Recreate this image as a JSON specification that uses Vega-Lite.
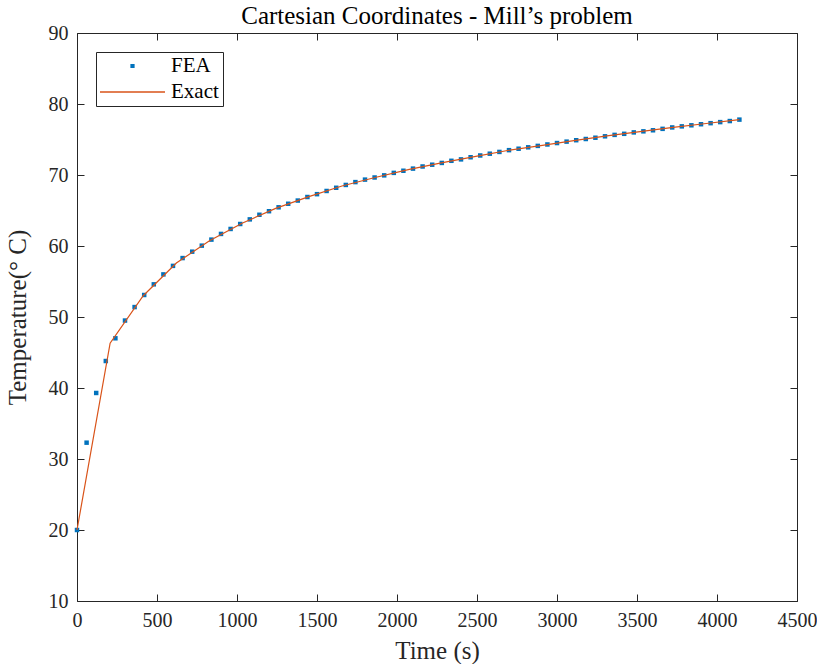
{
  "$schema": "https://vega.github.io/schema/vega-lite/v6.json",
  "autosize": "none",
  "width": 720,
  "height": 568,
  "padding": {"left": 77, "top": 33, "right": 20, "bottom": 63},
  "background": "white",
  "title": {"text": "Cartesian Coordinates - Mill’s problem", "offset": -6, "anchor": "middle", "font": "Liberation Serif", "fontSize": 25, "fontWeight": "normal", "color": "#000000"},
  "config": {
    "view": {"stroke": null},
    "axis": {
      "grid": false,
      "domainColor": "#262626",
      "domainWidth": 1,
      "tickColor": "#262626",
      "tickWidth": 1,
      "tickSize": -7,
      "labelFont": "Liberation Serif",
      "labelFontSize": 20,
      "labelColor": "#262626",
      "titleFont": "Liberation Serif",
      "titleFontSize": 25,
      "titleFontWeight": "normal",
      "titleColor": "#262626"
    }
  },
  "datasets": {
    "fea": [
      {"t": 0, "T": 20.0, "series": "FEA"},
      {"t": 60, "T": 32.3, "series": "FEA"},
      {"t": 120, "T": 39.3, "series": "FEA"},
      {"t": 180, "T": 43.8, "series": "FEA"},
      {"t": 240, "T": 47.0, "series": "FEA"},
      {"t": 300, "T": 49.5, "series": "FEA"},
      {"t": 360, "T": 51.4, "series": "FEA"},
      {"t": 420, "T": 53.1, "series": "FEA"},
      {"t": 480, "T": 54.6, "series": "FEA"},
      {"t": 540, "T": 56.0, "series": "FEA"},
      {"t": 600, "T": 57.2, "series": "FEA"},
      {"t": 660, "T": 58.3, "series": "FEA"},
      {"t": 720, "T": 59.2, "series": "FEA"},
      {"t": 780, "T": 60.05, "series": "FEA"},
      {"t": 840, "T": 60.9, "series": "FEA"},
      {"t": 900, "T": 61.7, "series": "FEA"},
      {"t": 960, "T": 62.4, "series": "FEA"},
      {"t": 1020, "T": 63.1, "series": "FEA"},
      {"t": 1080, "T": 63.75, "series": "FEA"},
      {"t": 1140, "T": 64.4, "series": "FEA"},
      {"t": 1200, "T": 64.9, "series": "FEA"},
      {"t": 1260, "T": 65.45, "series": "FEA"},
      {"t": 1320, "T": 65.95, "series": "FEA"},
      {"t": 1380, "T": 66.4, "series": "FEA"},
      {"t": 1440, "T": 66.9, "series": "FEA"},
      {"t": 1500, "T": 67.3, "series": "FEA"},
      {"t": 1560, "T": 67.75, "series": "FEA"},
      {"t": 1620, "T": 68.2, "series": "FEA"},
      {"t": 1680, "T": 68.6, "series": "FEA"},
      {"t": 1740, "T": 69.0, "series": "FEA"},
      {"t": 1800, "T": 69.35, "series": "FEA"},
      {"t": 1860, "T": 69.65, "series": "FEA"},
      {"t": 1920, "T": 69.95, "series": "FEA"},
      {"t": 1980, "T": 70.3, "series": "FEA"},
      {"t": 2040, "T": 70.6, "series": "FEA"},
      {"t": 2100, "T": 70.9, "series": "FEA"},
      {"t": 2160, "T": 71.2, "series": "FEA"},
      {"t": 2220, "T": 71.45, "series": "FEA"},
      {"t": 2280, "T": 71.7, "series": "FEA"},
      {"t": 2340, "T": 72.0, "series": "FEA"},
      {"t": 2400, "T": 72.2, "series": "FEA"},
      {"t": 2460, "T": 72.5, "series": "FEA"},
      {"t": 2520, "T": 72.75, "series": "FEA"},
      {"t": 2580, "T": 73.0, "series": "FEA"},
      {"t": 2640, "T": 73.25, "series": "FEA"},
      {"t": 2700, "T": 73.5, "series": "FEA"},
      {"t": 2760, "T": 73.7, "series": "FEA"},
      {"t": 2820, "T": 73.9, "series": "FEA"},
      {"t": 2880, "T": 74.1, "series": "FEA"},
      {"t": 2940, "T": 74.3, "series": "FEA"},
      {"t": 3000, "T": 74.5, "series": "FEA"},
      {"t": 3060, "T": 74.7, "series": "FEA"},
      {"t": 3120, "T": 74.9, "series": "FEA"},
      {"t": 3180, "T": 75.07, "series": "FEA"},
      {"t": 3240, "T": 75.25, "series": "FEA"},
      {"t": 3300, "T": 75.45, "series": "FEA"},
      {"t": 3360, "T": 75.65, "series": "FEA"},
      {"t": 3420, "T": 75.8, "series": "FEA"},
      {"t": 3480, "T": 76.0, "series": "FEA"},
      {"t": 3540, "T": 76.15, "series": "FEA"},
      {"t": 3600, "T": 76.3, "series": "FEA"},
      {"t": 3660, "T": 76.5, "series": "FEA"},
      {"t": 3720, "T": 76.7, "series": "FEA"},
      {"t": 3780, "T": 76.85, "series": "FEA"},
      {"t": 3840, "T": 77.0, "series": "FEA"},
      {"t": 3900, "T": 77.15, "series": "FEA"},
      {"t": 3960, "T": 77.3, "series": "FEA"},
      {"t": 4020, "T": 77.45, "series": "FEA"},
      {"t": 4080, "T": 77.6, "series": "FEA"},
      {"t": 4140, "T": 77.8, "series": "FEA"}
    ],
    "exact": [
      {"t": 0, "T": 20.0, "series": "Exact"},
      {"t": 207, "T": 46.3, "series": "Exact"},
      {"t": 414, "T": 53.0, "series": "Exact"},
      {"t": 621, "T": 57.6, "series": "Exact"},
      {"t": 828, "T": 60.75, "series": "Exact"},
      {"t": 1035, "T": 63.25, "series": "Exact"},
      {"t": 1242, "T": 65.3, "series": "Exact"},
      {"t": 1449, "T": 66.95, "series": "Exact"},
      {"t": 1656, "T": 68.45, "series": "Exact"},
      {"t": 1863, "T": 69.65, "series": "Exact"},
      {"t": 2070, "T": 70.75, "series": "Exact"},
      {"t": 2277, "T": 71.7, "series": "Exact"},
      {"t": 2484, "T": 72.6, "series": "Exact"},
      {"t": 2691, "T": 73.45, "series": "Exact"},
      {"t": 2898, "T": 74.15, "series": "Exact"},
      {"t": 3105, "T": 74.85, "series": "Exact"},
      {"t": 3312, "T": 75.5, "series": "Exact"},
      {"t": 3519, "T": 76.1, "series": "Exact"},
      {"t": 3726, "T": 76.7, "series": "Exact"},
      {"t": 3933, "T": 77.25, "series": "Exact"},
      {"t": 4140, "T": 77.8, "series": "Exact"}
    ]
  },
  "layer": [
    {
      "data": {"name": "fea"},
      "mark": {"type": "point", "shape": "square", "filled": true, "size": 20, "opacity": 1},
      "encoding": {
        "x": {"field": "t", "type": "quantitative", "scale": {"domain": [0, 4500], "nice": false, "zero": false},
              "axis": {"orient": "bottom", "values": [0, 500, 1000, 1500, 2000, 2500, 3000, 3500, 4000, 4500], "format": "d", "labelPadding": 16, "title": "Time (s)", "titlePadding": 8, "labelFlush": false}},
        "y": {"field": "T", "type": "quantitative", "scale": {"domain": [10, 90], "nice": false, "zero": false},
              "axis": {"orient": "left", "values": [10, 20, 30, 40, 50, 60, 70, 80, 90], "format": "d", "labelPadding": 16, "title": "Temperature(° C)", "titlePadding": 18, "labelFlush": false}},
        "color": {"field": "series", "type": "nominal", "scale": {"domain": ["FEA", "Exact"], "range": ["#0072BD", "#D95319"]},
                  "legend": {"title": null, "orient": "none", "legendX": 19, "legendY": 19, "symbolSize": 4225, "clipHeight": 20, "rowPadding": 5, "labelOffset": 6, "padding": 4,
                             "labelFont": "Liberation Serif", "labelFontSize": 21, "labelColor": "#000000",
                             "fillColor": "white", "strokeColor": "#262626",
                             "encode": {"symbols": {"update": {"shape": {"signal": "datum.value === 'FEA' ? 'M-0.065,-0.065H0.065V0.065H-0.065Z' : 'M-1,-0.02H1V0.02H-1Z'"}, "fill": {"scale": "color", "field": "value"}, "stroke": {"value": "transparent"}, "strokeWidth": {"value": 0}, "opacity": {"value": 1}}}}}}
      }
    },
    {
      "data": {"name": "exact"},
      "mark": {"type": "line", "strokeWidth": 1.2},
      "encoding": {
        "x": {"field": "t", "type": "quantitative", "axis": {"orient": "top", "values": [0, 500, 1000, 1500, 2000, 2500, 3000, 3500, 4000, 4500], "labels": false, "title": null}},
        "y": {"field": "T", "type": "quantitative", "axis": {"orient": "right", "values": [10, 20, 30, 40, 50, 60, 70, 80, 90], "labels": false, "title": null}},
        "color": {"field": "series", "type": "nominal",
                  "legend": {"title": null, "orient": "none", "legendX": 19, "legendY": 19, "symbolSize": 4225, "clipHeight": 20, "rowPadding": 5, "labelOffset": 6, "padding": 4,
                             "labelFont": "Liberation Serif", "labelFontSize": 21, "labelColor": "#000000",
                             "fillColor": "white", "strokeColor": "#262626",
                             "encode": {"symbols": {"update": {"shape": {"signal": "datum.value === 'FEA' ? 'M-0.065,-0.065H0.065V0.065H-0.065Z' : 'M-1,-0.02H1V0.02H-1Z'"}, "fill": {"scale": "color", "field": "value"}, "stroke": {"value": "transparent"}, "strokeWidth": {"value": 0}, "opacity": {"value": 1}}}}}}
      }
    }
  ]
}
